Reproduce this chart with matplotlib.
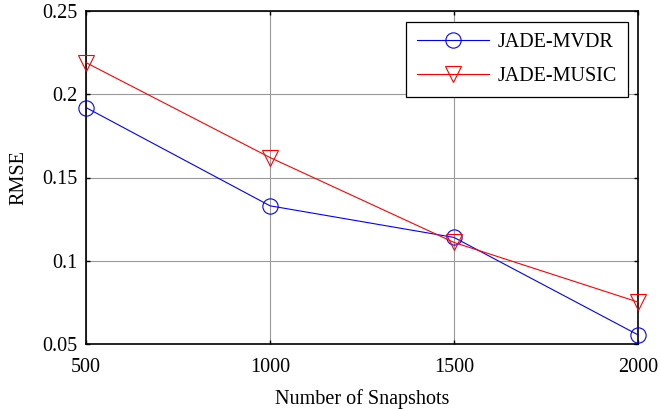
import matplotlib.pyplot as plt

# Data
snapshots = [500, 1000, 1500, 2000]
rmse_mvdr = [0.192, 0.133, 0.114, 0.0555]
rmse_music = [0.219, 0.162, 0.111, 0.0752]

plt.rcParams['font.family'] = ['Liberation Serif', 'DejaVu Serif']

fig = plt.figure(figsize=(6.61, 4.09), dpi=100)
ax = fig.add_axes([86 / 661, 1 - 344 / 409, (638 - 86) / 661, (344 - 11) / 409])

ax.plot(snapshots, rmse_mvdr, color="blue", lw=0.8, marker="o", ms=11,
        mfc="none", mew=0.8, label="JADE-MVDR", clip_on=False, zorder=3)
ax.plot(snapshots, rmse_music, color="red", lw=0.8, marker="v", ms=12,
        mfc="none", mew=0.8, label="JADE-MUSIC", clip_on=False, zorder=3)

ax.set_xlim(500, 2000)
ax.set_ylim(0.05, 0.25)
ax.set_xticks(snapshots)
ax.set_yticks([0.05, 0.1, 0.15, 0.2, 0.25])
ax.set_yticklabels(["0.05", "0.1", "0.15", "0.2", "0.25"])
ax.grid(True, color="#999999", lw=0.8, ls="-")
ax.set_axisbelow(True)
ax.tick_params(direction="in", length=3, width=1, top=True, right=True,
               labelsize=14.5)
ax.tick_params(axis="x", pad=10)
ax.tick_params(axis="y", pad=6)
for s in ax.spines.values():
    s.set_linewidth(1.2)

ax.set_xlabel("Number of Snapshots", fontsize=14.5, labelpad=9)
ax.set_ylabel("RMSE", fontsize=14.5, labelpad=10)

leg = ax.legend(loc="upper right", bbox_to_anchor=(628 / 661, 1 - 22 / 409),
                bbox_transform=fig.transFigure, borderaxespad=0,
                fontsize=14.5, fancybox=False, edgecolor="black",
                framealpha=1, handlelength=3.6, borderpad=0.55,
                labelspacing=0.75, handletextpad=0.4)
leg.get_frame().set_linewidth(0.9)

fig.savefig("out.png", dpi=100)
